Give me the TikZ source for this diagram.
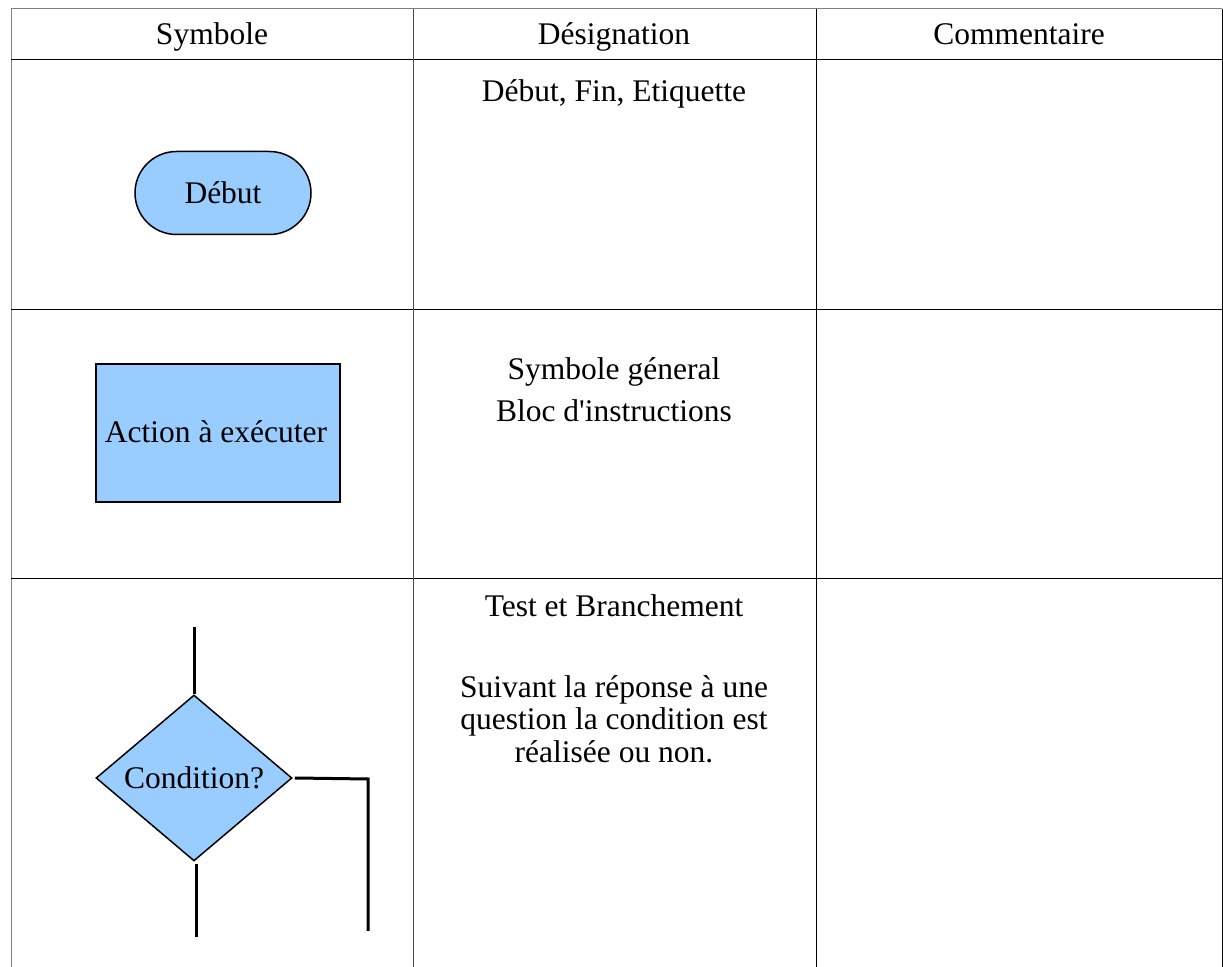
\documentclass[tikz,border=0pt]{standalone}
\usepackage{fontspec}
\newfontfamily\timesfont{Liberation Serif}
\usetikzlibrary{shapes.geometric}
\definecolor{bleu}{HTML}{99CCFF}

\begin{document}
\begin{tikzpicture}[x=0.5pt,y=-0.5pt,font=\timesfont\fontsize{15.75}{16}\selectfont]
		\tikzstyle{cell}=[line width=0.5pt]
		\tikzstyle{sym}=[draw,fill=bleu,line width=0.75pt,inner sep=0pt]
		\tikzstyle{branch}=[line width=1.5pt]
		\tikzstyle{txt}=[align=center,inner sep=0pt,text height=11pt,text depth=3.5pt]

		\useasboundingbox (0,0) rectangle (1223,967);

		\draw[cell,gray] (11,967) -- (11,9) -- (1222,9);
		\draw[cell] (1222,9) -- (1222,967);
		\draw[cell] (11,60) -- (1222,60);
		\draw[cell] (11,310) -- (1222,310);
		\draw[cell] (11,579) -- (1222,579);
		\draw[cell,gray!60!black] (413,9) -- (413,967);
		\draw[cell] (816,9) -- (816,967);

		\node[txt](h1) at (212,37.5){Symbole};
		\node[txt](h2) at (614,37.5){Désignation};
		\node[txt](h3) at (1019,37.5){Commentaire};

		\node[sym,rounded corners=20.75pt,minimum width=88pt,minimum height=41.5pt](debut) at (223,193){Début};
		\node[txt](d1) at (614,94.5){Début, Fin, Etiquette};

		\node[sym,minimum width=122pt,minimum height=69pt](action) at (218,433){};
		\node[txt](actxt) at (216,435.5){Action à exécuter};
		\node[txt](d2) at (614,372.5){Symbole géneral};
		\node[txt](d3) at (614,414.5){Bloc d'instructions};

		\node[sym,diamond,minimum width=98pt,minimum height=83pt](cond) at (194,778){Condition?};
		\node[txt](d4) at (614,609.5){Test et Branchement};
		\node[align=center,inner sep=0pt,font=\timesfont\fontsize{15.75}{16.25}\selectfont](d5) at (614,719){Suivant la réponse à une\\question la condition est\\réalisée ou non.};

		\coordinate (in) at (194,627);
		\coordinate (oui) at (196,937);
		\coordinate (coude) at (368,779);
		\coordinate (non) at (368,931);

		\draw[branch] (in) -- (cond.north);
		\draw[branch] ([yshift=-1pt]cond.south -| oui) -- (oui);
		\draw[branch] ([xshift=1pt]cond.east) -- (coude) -- (non);
	\end{tikzpicture}
\end{document}
